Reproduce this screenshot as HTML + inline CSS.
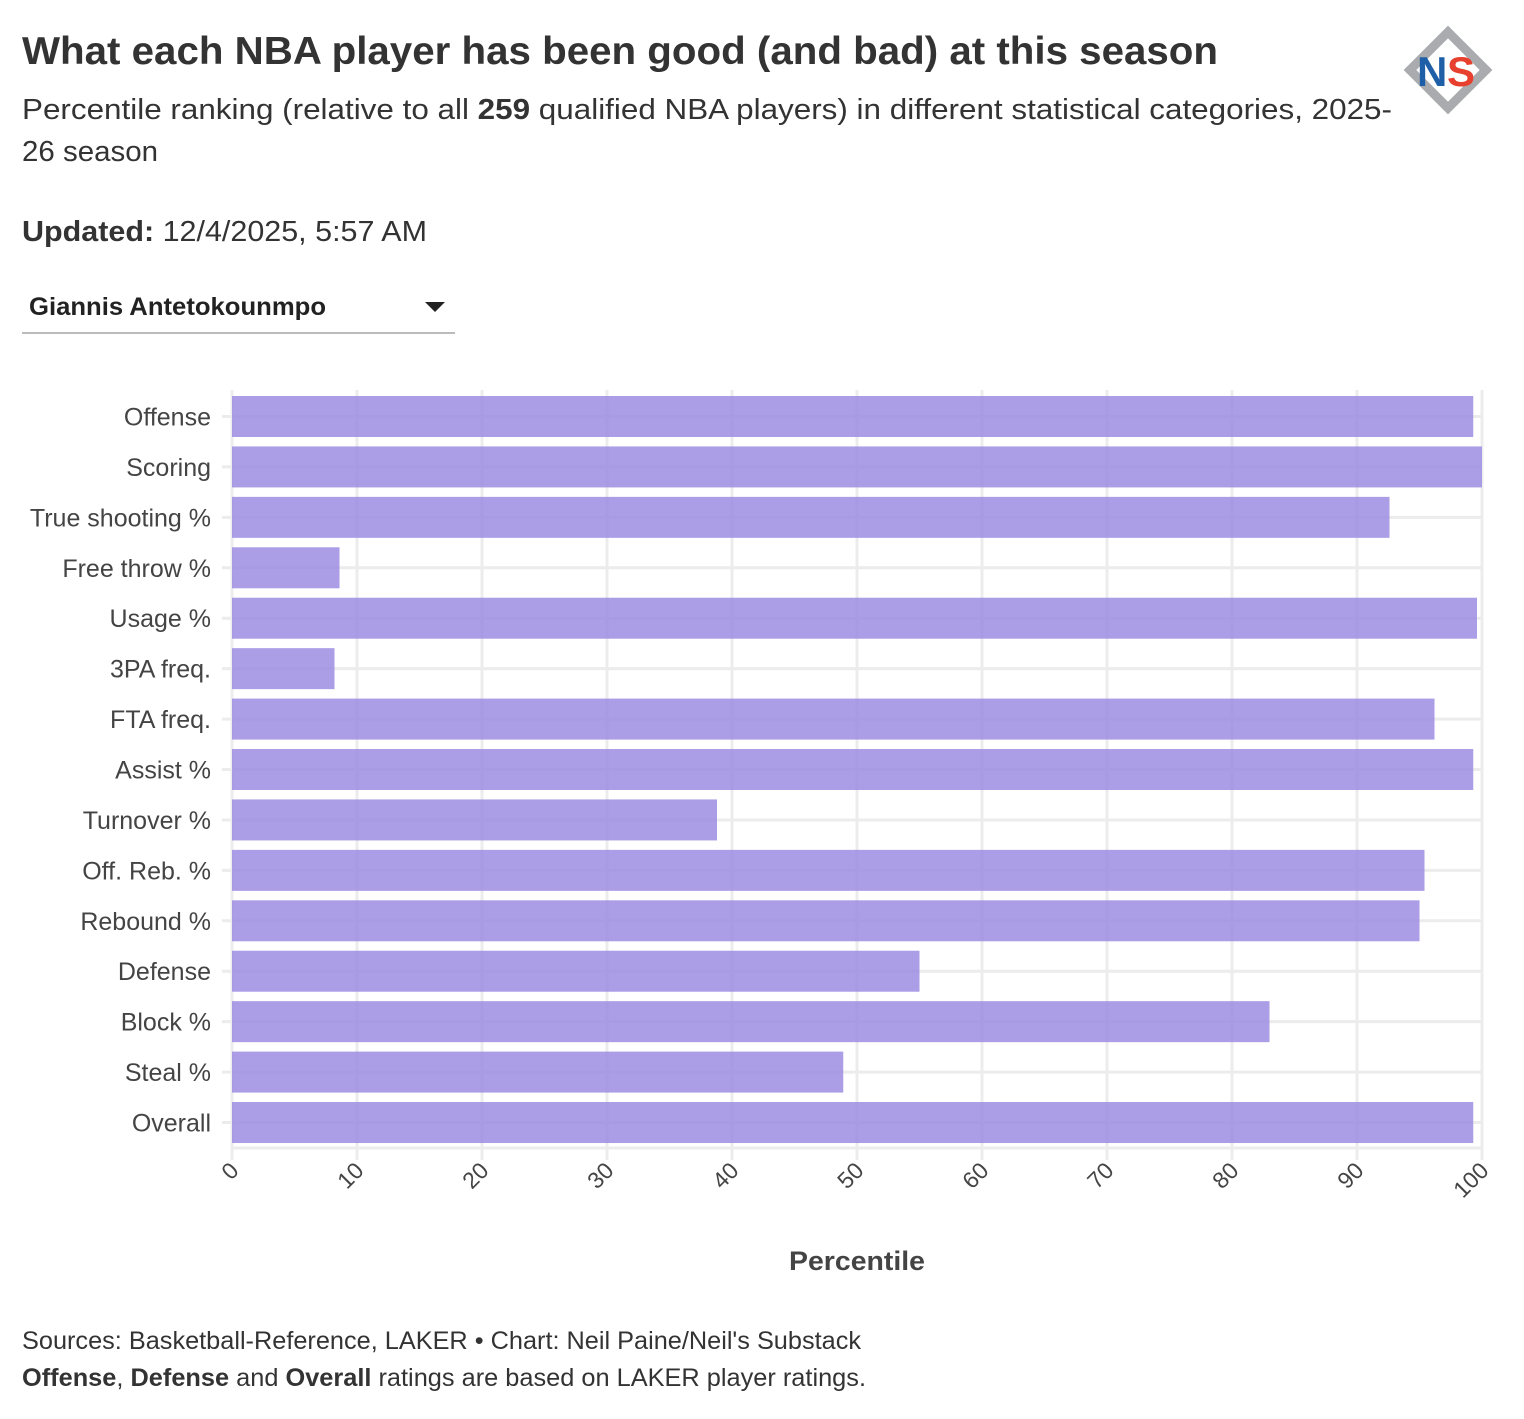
<!DOCTYPE html>
<html><head><meta charset="utf-8"><style>
body{margin:0;background:#fff;font-family:"Liberation Sans",sans-serif;color:#333;}
svg text{font-family:"Liberation Sans",sans-serif;}
</style></head><body>
<svg id="c" width="1524" height="1414" xmlns="http://www.w3.org/2000/svg">
<text x="22" y="64" font-size="39" font-weight="bold" fill="#333" textLength="1196" lengthAdjust="spacingAndGlyphs">What each NBA player has been good (and bad) at this season</text>
<text x="22" y="119" font-size="29" fill="#333" textLength="1370" lengthAdjust="spacingAndGlyphs">Percentile ranking (relative to all <tspan font-weight="bold">259</tspan> qualified NBA players) in different statistical categories, 2025-</text>
<text x="22" y="161" font-size="29" fill="#333" textLength="136" lengthAdjust="spacingAndGlyphs">26 season</text>
<text x="22" y="241" font-size="29" fill="#333" textLength="405" lengthAdjust="spacingAndGlyphs"><tspan font-weight="bold">Updated:</tspan> 12/4/2025, 5:57 AM</text>
<g>
<text x="29" y="315" font-size="25" font-weight="bold" fill="#222" textLength="297" lengthAdjust="spacingAndGlyphs">Giannis Antetokounmpo</text>
<path d="M425 302 L445 302 L435 312 Z" fill="#222"/>
<line x1="22" y1="333" x2="455" y2="333" stroke="#bbb" stroke-width="2"/>
</g>
<g>
<path d="M1448 32 L1486 70 L1448 108 L1410 70 Z" fill="none" stroke="#a9abae" stroke-width="9"/>
<text x="1417" y="86" font-size="42" font-weight="bold" fill="#1f5fa8" letter-spacing="-2">N</text>
<text x="1447" y="86" font-size="42" font-weight="bold" fill="#e8402f">S</text>
</g>
<g id="plot"></g>
<text x="857" y="1270" text-anchor="middle" font-size="27" font-weight="bold" fill="#444" textLength="136" lengthAdjust="spacingAndGlyphs">Percentile</text>
<text x="22" y="1349" font-size="25" fill="#333" textLength="839" lengthAdjust="spacingAndGlyphs">Sources: Basketball-Reference, LAKER • Chart: Neil Paine/Neil's Substack</text>
<text x="22" y="1386" font-size="25" fill="#333" textLength="844" lengthAdjust="spacingAndGlyphs"><tspan font-weight="bold">Offense</tspan>, <tspan font-weight="bold">Defense</tspan> and <tspan font-weight="bold">Overall</tspan> ratings are based on LAKER player ratings.</text>
</svg>
<script>
const categories=["Offense","Scoring","True shooting %","Free throw %","Usage %","3PA freq.","FTA freq.","Assist %","Turnover %","Off. Reb. %","Rebound %","Defense","Block %","Steal %","Overall"];
const values=[99.3,100,92.6,8.6,99.6,8.2,96.2,99.3,38.8,95.4,95.0,55.0,83.0,48.9,99.3];
const ticks=[0,10,20,30,40,50,60,70,80,90,100];
const NS="http://www.w3.org/2000/svg";
const g=document.getElementById('plot');
const x=v=>232+v*12.5;
const step=50.43, top0=396, bh=41;
const y=i=>top0+i*step;
function mk(t,a){const e=document.createElementNS(NS,t);for(const k in a)e.setAttribute(k,a[k]);g.appendChild(e);return e;}
categories.forEach((c,i)=>{
 const l=mk('line',{x1:222,x2:1482,y1:y(i)+bh/2,y2:y(i)+bh/2,stroke:'#ececec','stroke-width':3});
 
 
});
ticks.forEach(t=>{
 const l=mk('line',{x1:x(t),x2:x(t),y1:390,y2:1160,stroke:'#ececec','stroke-width':3});
 
 
 const tx=mk('text',{x:0,y:0,'font-size':23,fill:'#444','text-anchor':'end',transform:`translate(${x(t)+8},${1172}) rotate(-45)`});
 tx.textContent=t;
 
 
});
const bl=mk('line',{x1:232,x2:1482,y1:1148,y2:1148,stroke:'#ececec','stroke-width':3});


categories.forEach((c,i)=>{
 const r=mk('rect',{x:x(0),y:y(i),width:x(values[i])-x(0),height:bh,fill:'#9d8de2','fill-opacity':0.85});
 
 
 const tx=mk('text',{x:211,y:y(i)+bh/2+9,'font-size':25,fill:'#444','text-anchor':'end'});
 tx.textContent=c;
 
 
});
</script>
</body></html>
